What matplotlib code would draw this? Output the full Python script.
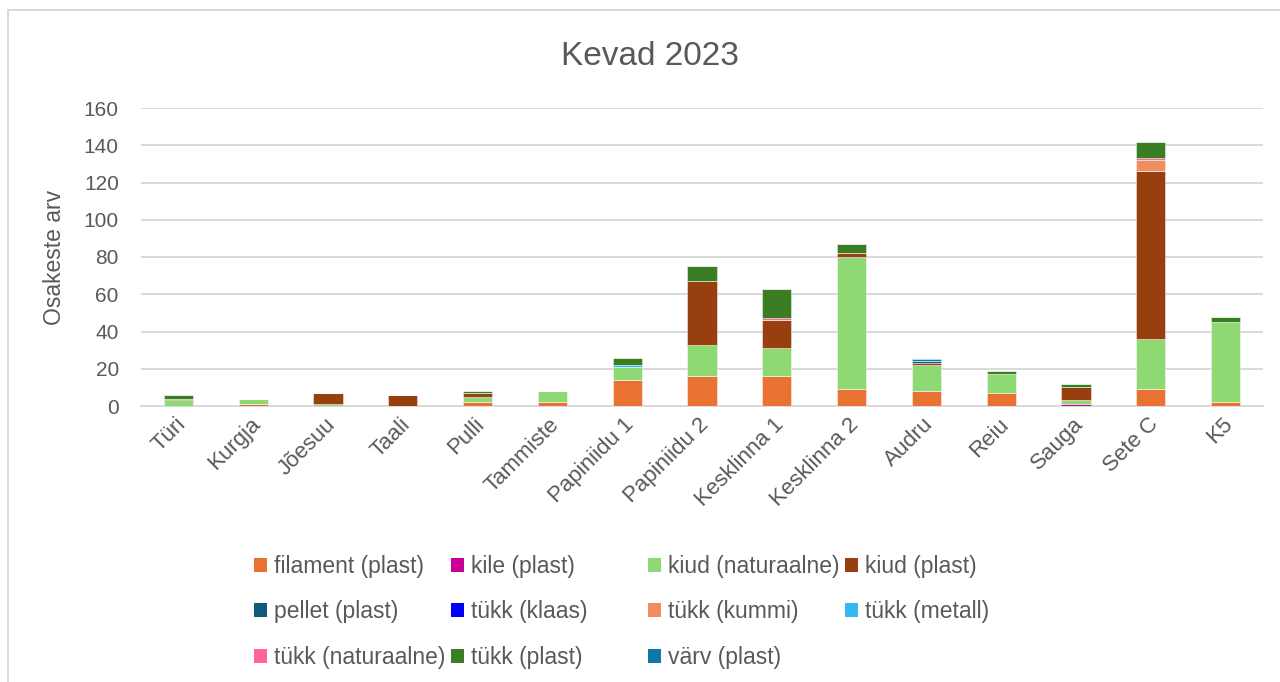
import numpy as np
import matplotlib
matplotlib.use('Agg')
import matplotlib.pyplot as plt
import matplotlib.transforms as mtransforms
from matplotlib.patches import Patch, Rectangle

# kohad (x-telg)
categories = ['Türi', 'Kurgja', 'Jõesuu', 'Taali', 'Pulli', 'Tammiste',
              'Papiniidu 1', 'Papiniidu 2', 'Kesklinna 1', 'Kesklinna 2',
              'Audru', 'Reiu', 'Sauga', 'Sete C', 'K5']

# osakeste arv tüübi kaupa
filament_plast = [0, 1, 0, 0, 2, 2, 14, 16, 16, 9, 8, 7, 0, 9, 2]
kile_plast = [0, 0, 0, 0, 0, 0, 0, 0, 0, 0, 0, 0, 1, 0, 0]
kiud_naturaalne = [3, 3, 1, 0, 3, 6, 7, 17, 15, 71, 14, 10, 2, 27, 43]
kiud_plast = [1, 0, 6, 6, 2, 0, 0, 34, 15, 2, 1, 0, 7, 90, 0]
pellet_plast = [0, 0, 0, 0, 0, 0, 0, 0, 0, 0, 1, 0, 0, 0, 0]
tukk_klaas = [0, 0, 0, 0, 0, 0, 0, 0, 0, 0, 0, 0, 0, 0, 0]
tukk_kummi = [0, 0, 0, 0, 0, 0, 0, 0, 0, 0, 0, 0, 0, 6, 0]
tukk_metall = [0, 0, 0, 0, 0, 0, 1, 0, 0, 0, 0, 0, 0, 0, 0]
tukk_naturaalne = [0, 0, 0, 0, 0, 0, 0, 0, 1, 0, 0, 0, 0, 1, 0]
tukk_plast = [2, 0, 0, 0, 1, 0, 4, 8, 16, 5, 0, 2, 2, 9, 3]
varv_plast = [0, 0, 0, 0, 0, 0, 0, 0, 0, 0, 1, 0, 0, 0, 0]

series_names = ['filament (plast)', 'kile (plast)', 'kiud (naturaalne)', 'kiud (plast)',
                'pellet (plast)', 'tükk (klaas)', 'tükk (kummi)', 'tükk (metall)',
                'tükk (naturaalne)', 'tükk (plast)', 'värv (plast)']
series_values = [filament_plast, kile_plast, kiud_naturaalne, kiud_plast,
                 pellet_plast, tukk_klaas, tukk_kummi, tukk_metall,
                 tukk_naturaalne, tukk_plast, varv_plast]
colors = ['#E97132', '#CC0099', '#8ED973', '#973F0F', '#0E5C7A', '#0000FF',
          '#EF8F5E', '#33BBEE', '#FF6699', '#3A7D22', '#0E79A9']

text_color = '#595959'
grid_color = '#D9D9D9'
plt.rcParams['font.family'] = ['Liberation Sans', 'DejaVu Sans']

fig = plt.figure(figsize=(12.8, 6.82), dpi=100)
ax = fig.add_axes([141 / 1280, 1 - 406 / 682, 1122 / 1280, 298 / 682])

x = np.arange(len(categories))
bottom = np.zeros(len(categories))
for name, vals, col in zip(series_names, series_values, colors):
    vals = np.array(vals, dtype=float)
    ax.bar(x, vals, width=0.39, bottom=bottom, color=col,
           edgecolor=(1, 1, 1, 0.45), linewidth=0.7, zorder=3, label=name)
    bottom += vals

ax.set_xlim(-0.5, len(categories) - 0.5)
ax.set_ylim(0, 160)
ax.set_yticks(np.arange(0, 161, 20))
ax.yaxis.grid(True, color=grid_color, linewidth=1.4, zorder=0)
ax.set_axisbelow(True)
for s in ['top', 'right', 'left']:
    ax.spines[s].set_visible(False)
ax.spines['bottom'].set_color(grid_color)
ax.spines['bottom'].set_linewidth(1.4)

ax.tick_params(axis='y', length=0, pad=16, labelsize=15, labelcolor=text_color)
ax.tick_params(axis='x', length=0, pad=11, labelsize=16, labelcolor=text_color)
ax.set_xticks(x)
ax.set_xticklabels(categories, rotation=45, ha='right', va='center',
                   rotation_mode='anchor')
# nihutame nimed veidi paremale
shift = mtransforms.ScaledTranslation(4 / 100, 0, fig.dpi_scale_trans)
for lbl in ax.get_xticklabels():
    lbl.set_transform(lbl.get_transform() + shift)
ax.set_ylabel('Osakeste arv', fontsize=16.5, color=text_color, labelpad=13)

# pealkiri
fig.text(649.5 / 1280, 1 - 65 / 682, 'Kevad 2023', fontsize=24,
         color=text_color, ha='center', va='baseline')

# legend – neli veergu, read vasakult paremale
handles = [Patch(facecolor=c) for c in colors]
col_x = [254, 451, 648, 845]
for c in range(4):
    idx = [i for i in (c, c + 4, c + 8) if i < len(series_names)]
    fig.legend([handles[i] for i in idx], [series_names[i] for i in idx],
               loc='upper left', bbox_to_anchor=(col_x[c] / 1280, 1 - 555 / 682),
               frameon=False, fontsize=16.5, labelcolor=text_color,
               handlelength=0.57, handleheight=0.57, handletextpad=0.3,
               labelspacing=0.98, borderpad=0, borderaxespad=0)

# diagrammi raam
fig.add_artist(Rectangle((7.5 / 1280, -0.2), 2, 1.2 - 10 / 682, fill=False,
                         edgecolor=grid_color, linewidth=1.4,
                         transform=fig.transFigure))

fig.savefig('out.png', dpi=100)
